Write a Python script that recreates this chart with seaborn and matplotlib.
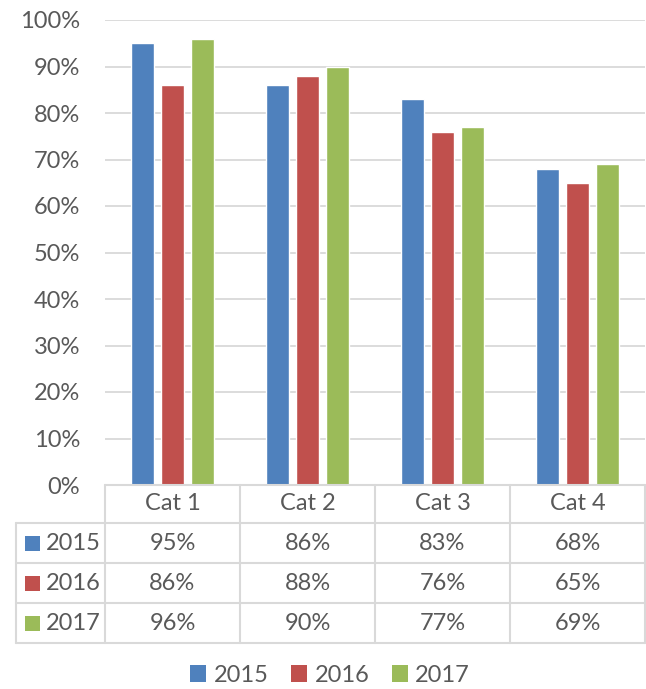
import matplotlib
matplotlib.use("Agg")
import matplotlib.pyplot as plt
import matplotlib.transforms as mtransforms
from matplotlib.patches import Rectangle
from matplotlib.ticker import PercentFormatter
import pandas as pd
import seaborn as sns

# Chart data
categories = ["Cat 1", "Cat 2", "Cat 3", "Cat 4"]
years = ["2015", "2016", "2017"]
values_2015 = [0.95, 0.86, 0.83, 0.68]
values_2016 = [0.86, 0.88, 0.76, 0.65]
values_2017 = [0.96, 0.90, 0.77, 0.69]
colors = ["#4F81BD", "#C0504D", "#9BBB59"]

TEXT = "#595959"
GRID = "#D9D9D9"
FS = 17
W, H = 646, 689

sns.set_theme(style="white")
plt.rcParams["font.family"] = ["Lato", "DejaVu Sans"]

series = [values_2015, values_2016, values_2017]
rows = []
for year, vals in zip(years, series):
    for cat, v in zip(categories, vals):
        rows.append({"category": cat, "year": year, "value": v})
df = pd.DataFrame(rows)

fig = plt.figure(figsize=(W / 100, H / 100), dpi=100)


def fx(px):
    return px / W


def fy(py):
    return 1 - py / H


# plot area in pixels: x 105..645, y 20..485
ax = fig.add_axes([fx(105), fy(485), fx(645) - fx(105), fy(20) - fy(485)])

sns.barplot(data=df, x="category", y="value", hue="year", palette=colors,
            width=0.667, gap=0.22, ax=ax, legend=False, saturation=1)

ax.set_xlim(-0.5, len(categories) - 0.5)
ax.set_ylim(0, 1)
ax.set_yticks([i / 10 for i in range(11)])
ax.yaxis.set_major_formatter(PercentFormatter(1.0, decimals=0))
ax.tick_params(axis="y", length=0, pad=18, labelsize=FS, labelcolor=TEXT)
ax.set_xticks([])
ax.set_xlabel("")
ax.set_ylabel("")
ax.grid(axis="y", color=GRID, linewidth=1.3)
ax.set_axisbelow(True)
for s in ax.spines.values():
    s.set_visible(False)

# data table below the plot
line_kw = dict(color=GRID, linewidth=1.5, transform=fig.transFigure, clip_on=False)
col_edges = [105, 240, 375, 510, 645]
row_edges = [485, 523, 563, 603, 643]
table_left = 16

fig.add_artist(plt.Line2D([fx(105), fx(645)], [fy(485), fy(485)], **line_kw))
for y in row_edges[1:]:
    fig.add_artist(plt.Line2D([fx(table_left), fx(645)], [fy(y), fy(y)], **line_kw))
for x in col_edges:
    fig.add_artist(plt.Line2D([fx(x), fx(x)], [fy(485), fy(643)], **line_kw))
fig.add_artist(plt.Line2D([fx(table_left), fx(table_left)], [fy(523), fy(643)], **line_kw))

trans = mtransforms.blended_transform_factory(ax.transData, fig.transFigure)
txt_kw = dict(fontsize=FS, color=TEXT, ha="center", va="center")

hy = (row_edges[0] + row_edges[1]) / 2
for i, cat in enumerate(categories):
    ax.text(i, fy(hy), cat, transform=trans, **txt_kw)

for r, (year, vals, c) in enumerate(zip(years, series, colors)):
    cy = (row_edges[r + 1] + row_edges[r + 2]) / 2
    fig.add_artist(Rectangle((fx(25), fy(cy + 7.5)), fx(15), 15 / H,
                             facecolor=c, edgecolor="none", transform=fig.transFigure))
    fig.text(fx(46), fy(cy), year, fontsize=FS, color=TEXT, ha="left", va="center")
    for i, v in enumerate(vals):
        ax.text(i, fy(cy), f"{v:.0%}", transform=trans, **txt_kw)

# legend
handles = [Rectangle((0, 0), 1, 1, facecolor=c, edgecolor="none") for c in colors]
leg = fig.legend(handles, years, loc="center", bbox_to_anchor=(fx(330), fy(675)),
                 ncol=3, frameon=False, fontsize=FS, handlelength=0.7, handleheight=0.7,
                 handletextpad=0.3, columnspacing=0.95)
for t in leg.get_texts():
    t.set_color(TEXT)

fig.savefig("out.png", dpi=100)
